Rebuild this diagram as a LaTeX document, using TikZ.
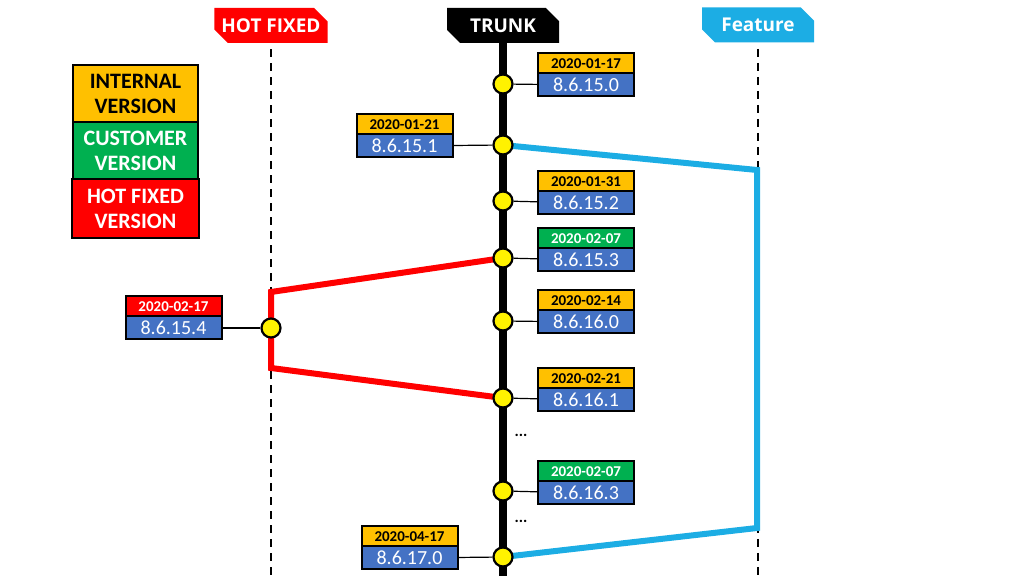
\documentclass[tikz,border=0pt]{standalone}
\usepackage{fontspec}
\setmainfont{Carlito}
\newfontfamily\headfont{Open Sans}
\usetikzlibrary{shapes.misc,positioning,backgrounds}
\definecolor{internal}{RGB}{255,192,0}
\definecolor{customer}{RGB}{0,176,80}
\definecolor{hotfix}{RGB}{255,0,0}
\definecolor{version}{RGB}{68,114,196}
\definecolor{feature}{RGB}{28,173,228}
\begin{document}
\begin{tikzpicture}[x=0.5pt,y=-0.5pt,
    commit/.style={circle,draw,fill=yellow,line width=1.1pt,minimum size=9.5pt,inner sep=0pt},
    datebox/.style={draw,line width=1pt,outer sep=0pt,minimum width=48pt,minimum height=10pt,inner sep=0pt,font=\bfseries\fontsize{7.5}{8}\selectfont},
    verbox/.style={draw,line width=1pt,outer sep=0pt,fill=version,text=white,minimum width=48pt,minimum height=11.5pt,inner sep=0pt,font=\fontsize{10}{11}\selectfont},
    header/.style={chamfered rectangle,chamfered rectangle corners={north east,south west},chamfered rectangle xsep=4.5pt,
        minimum width=56pt,minimum height=17.5pt,inner sep=0pt,text=white,font=\headfont\bfseries\fontsize{9.5}{11}\selectfont},
    legend/.style={draw,line width=1pt,outer sep=0pt,minimum width=62.5pt,minimum height=28.5pt,inner sep=0pt,align=center,font=\bfseries\fontsize{11}{12.5}\selectfont},
    link/.style={line width=0.6pt},
    branch/.style={line width=3pt}
]
    \useasboundingbox (0,0) rectangle (1024,576);
    %% headers
    \node[header,fill=hotfix] (HF) at (271,25.5) {HOT FIXED};
    \node[header,fill=black] (T) at (503,25.5) {TRUNK};
    \node[header,fill=feature] (F) at (758,25) {Feature};
    \coordinate (bottom) at (0,576);
    %% legend
    \node[legend,fill=internal] (L1) at (135.5,94) {INTERNAL\\VERSION};
    \node[legend,fill=customer,text=white,below=0pt of L1] (L2) {CUSTOMER\\VERSION};
    \node[legend,fill=hotfix,text=white,minimum width=63.5pt,minimum height=29.5pt,below=0pt of L2] (L3) {HOT FIXED\\VERSION};
    %% commits on the trunk
    \node[commit] (C1) at (503,84) {};
    \node[commit] (C2) at (503,145) {};
    \node[commit] (C3) at (503,201) {};
    \node[commit] (C4) at (503,258) {};
    \node[commit] (C5) at (503,321) {};
    \node[commit] (C6) at (503,398) {};
    \node[commit] (C7) at (503,491) {};
    \node[commit] (C8) at (503,557) {};
    \node[commit] (H) at (271,328) {};
    \node[font=\bfseries\fontsize{8}{9}\selectfont] (dots1) at (521,435) {...};
    \node[font=\bfseries\fontsize{8}{9}\selectfont] (dots2) at (521,521) {...};
    %% version labels
    \node[verbox] (V1) at (586,85) {8.6.15.0};
    \node[datebox,fill=internal,above=0pt of V1] (D1) {2020-01-17};
    \node[verbox] (V2) at (404.5,146) {8.6.15.1};
    \node[datebox,fill=internal,above=0pt of V2] (D2) {2020-01-21};
    \node[verbox] (V3) at (586,203) {8.6.15.2};
    \node[datebox,fill=internal,above=0pt of V3] (D3) {2020-01-31};
    \node[verbox] (V4) at (586,260) {8.6.15.3};
    \node[datebox,fill=customer,text=white,above=0pt of V4] (D4) {2020-02-07};
    \node[verbox] (V5) at (586,322) {8.6.16.0};
    \node[datebox,fill=internal,above=0pt of V5] (D5) {2020-02-14};
    \node[verbox] (V6) at (586,400) {8.6.16.1};
    \node[datebox,fill=internal,above=0pt of V6] (D6) {2020-02-21};
    \node[verbox] (V7) at (586,493) {8.6.16.3};
    \node[datebox,fill=customer,text=white,above=0pt of V7] (D7) {2020-02-07};
    \node[verbox] (V8) at (409.5,558) {8.6.17.0};
    \node[datebox,fill=internal,above=0pt of V8] (D8) {2020-04-17};
    \node[verbox] (V9) at (173.5,328) {8.6.15.4};
    \node[datebox,fill=hotfix,text=white,above=0pt of V9] (D9) {2020-02-17};
    \draw[link] (C1) -- (V1);
    \draw[link] (C2) -- (V2);
    \draw[link] (C3) -- (V3);
    \draw[link] (C4) -- (V4);
    \draw[link] (C5) -- (V5);
    \draw[link] (C6) -- (V6);
    \draw[link] (C7) -- (V7);
    \draw[link] (C8) -- (V8);
    \draw[link] (H) -- (V9);
    \begin{scope}[on background layer]
        \draw[line width=0.8pt,dash pattern=on 4pt off 3pt,shorten <=3pt] (HF.south) -- (HF.south |- bottom);
        \draw[line width=0.8pt,dash pattern=on 4pt off 3pt,shorten <=3pt] (F.south) -- (F.south |- bottom);
        \draw[line width=4pt] (T.south) -- (T.south |- bottom);
        %% hot fixed branch
        \coordinate (HFa) at (271,292);
        \coordinate (HFb) at (271,368);
        \draw[branch,hotfix] (C4.center) -- (HFa) -- (HFb) -- (C6.center);
        %% feature branch
        \coordinate (Fa) at (757,170);
        \coordinate (Fb) at (757,528);
        \draw[branch,feature] (C2.center) -- (Fa) -- (Fb) -- (C8.center);
    \end{scope}
\end{tikzpicture}
\end{document}
